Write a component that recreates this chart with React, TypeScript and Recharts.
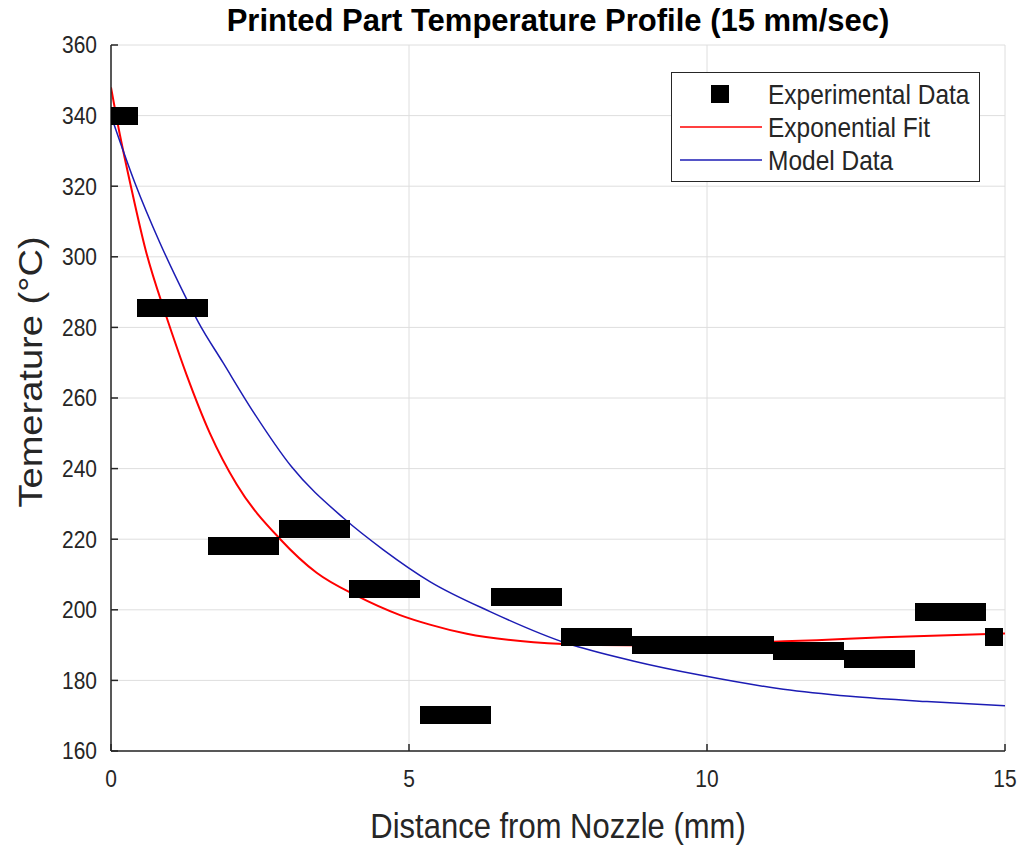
import { ComposedChart, Line, Scatter, XAxis, YAxis, CartesianGrid, Legend } from 'recharts';

// experimental samples (thermal camera, mm / deg C)
const expDistance = [
  0, 0.296, 0.593, 0.889, 1.186, 1.482, 1.778, 2.075, 2.371, 2.668,
  2.964, 3.26, 3.557, 3.853, 4.15, 4.446, 4.742, 5.039, 5.335, 5.632,
  5.928, 6.224, 6.521, 6.817, 7.114, 7.41, 7.706, 8.003, 8.299, 8.596,
  8.892, 9.188, 9.485, 9.781, 10.078, 10.374, 10.67, 10.967, 11.263, 11.56,
  11.856, 12.152, 12.449, 12.745, 13.042, 13.338, 13.634, 13.931, 14.227, 14.524,
  14.82,
];
const expTemp = [
  340, 340, 285.4, 285.4, 285.4, 285.4, 218.1, 218.1, 218.1, 218.1,
  222.8, 222.8, 222.8, 222.8, 205.8, 205.8, 205.8, 205.8, 170.3, 170.3,
  170.3, 170.3, 203.5, 203.5, 203.5, 203.5, 192.4, 192.4, 192.4, 192.4,
  190, 190, 190, 190, 190, 190, 190, 190, 188.2, 188.2,
  188.2, 188.2, 186, 186, 186, 186, 199.5, 199.5, 199.5, 199.5,
  192.4,
];

// exponential fit
const fitDistance = [0, 0.15, 0.34, 0.58, 0.9, 1.02, 1.27, 1.66, 2.11, 2.84, 3.45, 4.12, 4.85, 5.35, 5.97, 7.09, 8.2, 9.04, 9.88, 10.72, 11.84, 12.96, 15];
const fitTemp = [348, 334.5, 319.5, 302, 284.5, 278.5, 266.5, 250, 235.5, 220, 210.5, 204, 198.5, 195.8, 193.2, 190.8, 190, 189.9, 190.1, 190.7, 191.4, 192.2, 193.3];

// model curve
const modelDistance = [0, 0.4, 0.82, 1.24, 1.465, 1.88, 2.39, 3.03, 3.9, 4.57, 5.35, 6.36, 7.65, 8.76, 9.88, 11.28, 12.4, 13.69, 15];
const modelTemp = [340, 321, 304, 289, 281.5, 270, 256, 240.5, 226, 217, 208, 199.5, 190.5, 185.5, 181.5, 177.5, 175.5, 174, 172.8];

const xTicks = [0, 5, 10, 15];
const yTicks = [160, 180, 200, 220, 240, 260, 280, 300, 320, 340, 360];

const seriesNames = ['Experimental Data', 'Exponential Fit', 'Model Data'];
const seriesColors = ['#000000', '#ff0000', '#1c1cb4'];

const FONT = '"Liberation Sans", Arial, Helvetica, sans-serif';
const AXIS = '#262626';
const STRETCH = 1.12; // the source image is a bit taller than wide

const expData = expDistance.map((x, i) => ({ x, temp: expTemp[i] }));
const fitData = fitDistance.map((x, i) => ({ x, temp: fitTemp[i] }));
const modelData = modelDistance.map((x, i) => ({ x, temp: modelTemp[i] }));

const SquareMarker = (props: any) => {
  const { cx, cy } = props;
  if (cx == null || cy == null) return null;
  return (
    <rect x={cx - 9} y={cy - 9} width={18} height={18} fill={seriesColors[0]} shapeRendering="crispEdges" />
  );
};

const XTick = (p: any) => (
  <g transform={`translate(${p.x},${p.y}) scale(1,${STRETCH})`}>
    <text x={0} y={0} dy="0.71em" textAnchor="middle" fontSize={21} fontFamily={FONT} fill={AXIS}>
      {p.payload.value}
    </text>
  </g>
);

const YTick = (p: any) => (
  <g transform={`translate(${p.x},${p.y}) scale(1,${STRETCH})`}>
    <text x={0} y={0} dy="0.355em" textAnchor="end" fontSize={21} fontFamily={FONT} fill={AXIS}>
      {p.payload.value}
    </text>
  </g>
);

const LegendBox = () => (
  <svg width={310} height={111} style={{ display: 'block' }}>
    <rect x={0.5} y={0.5} width={308} height={109} fill="#fff" stroke={AXIS} strokeWidth={1} />
    {seriesNames.map((name, i) => {
      const cy = 22 + i * 33;
      return (
        <g key={name}>
          {i === 0 ? (
            <rect x={40} y={cy - 9} width={18} height={18} fill={seriesColors[0]} />
          ) : (
            <line x1={9} x2={91} y1={cy} y2={cy} stroke={seriesColors[i]} strokeWidth={1.5} />
          )}
          <g transform={`translate(97,${cy}) scale(1,${STRETCH})`}>
            <text x={0} y={0} dy="0.36em" fontSize={24.5} fontFamily={FONT} fill={AXIS}>
              {name}
            </text>
          </g>
        </g>
      );
    })}
  </svg>
);

export default function App() {
  return (
    <div style={{ position: 'relative', width: 1023, height: 845, background: '#fff' }}>
      <style>{'body{margin:0}'}</style>
      <div
        style={{
          position: 'absolute',
          left: 111,
          width: 894,
          top: 5,
          textAlign: 'center',
          fontFamily: FONT,
          fontWeight: 'bold',
          fontSize: 31,
          lineHeight: '31px',
          color: '#000',
          zIndex: 2,
        }}
      >
        Printed Part Temperature Profile (15 mm/sec)
      </div>
      <ComposedChart
        width={1023}
        height={845}
        margin={{ top: 45, right: 18, bottom: 34, left: 31 }}
        style={{ fontFamily: FONT }}
      >
        <CartesianGrid stroke="#dedede" strokeWidth={1} />
        <XAxis
          type="number"
          dataKey="x"
          domain={[0, 15]}
          ticks={xTicks}
          allowDataOverflow
          height={60}
          tickSize={-7}
          tickMargin={26}
          axisLine={{ stroke: AXIS, strokeWidth: 1.5 }}
          tickLine={{ stroke: AXIS, strokeWidth: 1.5 }}
          tick={<XTick />}
          label={{
            content: (p: any) => {
              const vb = p.viewBox || { x: 111, y: 751, width: 894 };
              return (
                <g transform={`translate(${vb.x + vb.width / 2},${vb.y + 74}) scale(1,${STRETCH})`}>
                  <text x={0} y={0} dy="0.36em" textAnchor="middle" fontSize={31} fontFamily={FONT} fill={AXIS}>
                    Distance from Nozzle (mm)
                  </text>
                </g>
              );
            },
          }}
        />
        <YAxis
          type="number"
          dataKey="temp"
          domain={[160, 360]}
          ticks={yTicks}
          allowDataOverflow
          width={80}
          tickSize={-7}
          tickMargin={21}
          axisLine={{ stroke: AXIS, strokeWidth: 1.5 }}
          tickLine={{ stroke: AXIS, strokeWidth: 1.5 }}
          tick={<YTick />}
          label={{
            content: (p: any) => {
              const vb = p.viewBox || { x: 31, y: 45, height: 706 };
              return (
                <g transform={`translate(${vb.x - 1}, ${vb.y + vb.height / 2 - 26}) scale(1,${STRETCH}) rotate(-90)`}>
                  <text x={0} y={0} dy="0.36em" textAnchor="middle" fontSize={34} fontFamily={FONT} fill={AXIS}>
                    Temerature (°C)
                  </text>
                </g>
              );
            },
          }}
        />
        <Scatter
          name={seriesNames[0]}
          data={expData}
          dataKey="temp"
          shape={SquareMarker}
          isAnimationActive={false}
        />
        <Line
          name={seriesNames[1]}
          data={fitData}
          dataKey="temp"
          type="monotone"
          stroke={seriesColors[1]}
          strokeWidth={2}
          dot={false}
          activeDot={false}
          isAnimationActive={false}
        />
        <Line
          name={seriesNames[2]}
          data={modelData}
          dataKey="temp"
          type="monotone"
          stroke={seriesColors[2]}
          strokeWidth={1.5}
          dot={false}
          activeDot={false}
          isAnimationActive={false}
        />
        <Legend
          layout="horizontal"
          verticalAlign="middle"
          align="center"
          content={<LegendBox />}
          wrapperStyle={{ position: 'absolute', left: 671, top: 72, width: 310, height: 111 }}
        />
      </ComposedChart>
    </div>
  );
}
